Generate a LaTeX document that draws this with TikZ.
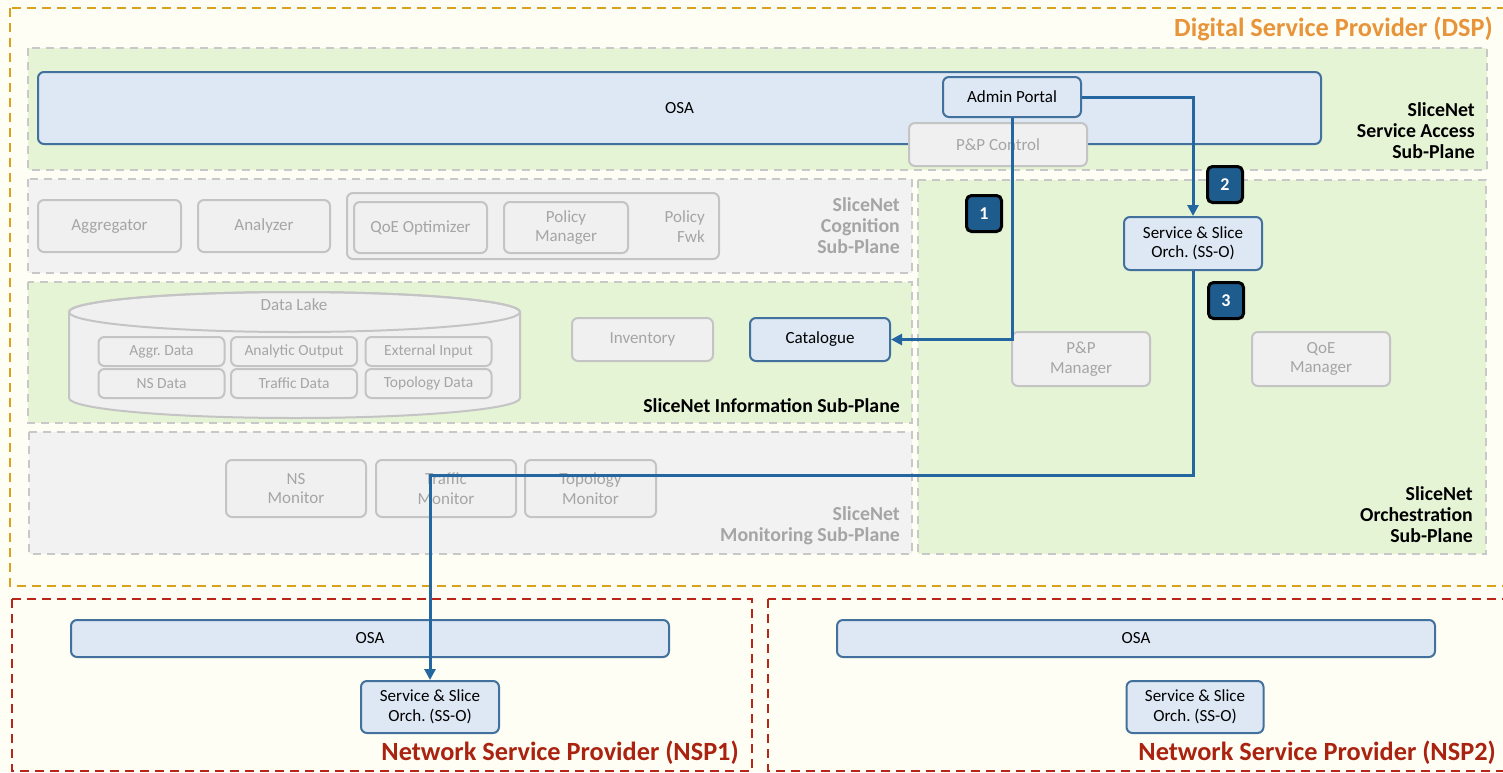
\documentclass[tikz,border=0pt]{standalone}
\usepackage{fontspec}
\setmainfont{Carlito}
\usetikzlibrary{arrows.meta}

\definecolor{cream}{HTML}{FEFEF4}
\definecolor{dspline}{HTML}{D9A21B}
\definecolor{dsptext}{HTML}{E8943A}
\definecolor{nspline}{HTML}{B8261A}
\definecolor{nsptext}{HTML}{AA2210}
\definecolor{greenfill}{HTML}{E6F4D6}
\definecolor{planegrey}{HTML}{F2F2F2}
\definecolor{planeline}{HTML}{C8C8C8}
\definecolor{greyfill}{HTML}{F0F0F0}
\definecolor{boxline}{HTML}{C4C4C4}
\definecolor{greytext}{HTML}{A5A5A5}
\definecolor{osafill}{HTML}{DDE8F4}
\definecolor{osaline}{HTML}{41719C}
\definecolor{flowblue}{HTML}{2466A0}
\definecolor{badgefill}{HTML}{1F5C8E}

\tikzset{
  plane/.style={draw=planeline, line width=2pt, dash pattern=on 8pt off 6pt},
  provider/.style={line width=2.3pt, dash pattern=on 9pt off 6pt},
  box/.style={draw=osaline, fill=osafill, line width=2pt, rounded corners=6pt, inner sep=0pt, align=center, font=\fontsize{17}{19.5}\selectfont},
  greybox/.style={box, draw=boxline, fill=greyfill, text=greytext},
  lakebox/.style={greybox, font=\fontsize{15.5}{18}\selectfont, minimum width=126pt, minimum height=29pt},
  planelabel/.style={anchor=east, align=right, inner sep=0pt, font=\bfseries\fontsize{19.8}{21}\selectfont},
  title/.style={anchor=base east, inner sep=0pt, font=\bfseries\fontsize{26.3}{30}\selectfont},
  badge/.style={draw=black, fill=badgefill, text=white, line width=3pt, rounded corners=5pt, minimum width=35pt, minimum height=36pt, inner sep=0pt, font=\bfseries\fontsize{18}{20}\selectfont},
  flow/.style={draw=flowblue, line width=3pt},
}

\begin{document}
\begin{tikzpicture}[x=1pt, y=-1pt, >={Triangle[length=11pt,width=11pt]}]
\useasboundingbox (0,0) rectangle (1503,772);
\fill[cream] (0,0) rectangle (1503,772);

\draw[provider, draw=dspline] (10,8) rectangle (1515,586);
\node[title, text=dsptext] (dsptitle) at (1493,36) {Digital Service Provider (DSP)};

\draw[plane, fill=greenfill] (28,48) rectangle (1487,170);
\draw[plane, fill=planegrey] (28,179) rectangle (912,273);
\draw[plane, fill=greenfill] (28,282) rectangle (912,423);
\draw[plane, fill=planegrey] (29,432) rectangle (912,554);
\draw[plane, fill=greenfill] (918,180) rectangle (1486,554);

\node[box, minimum width=1283pt, minimum height=72pt] (osa) at (679.5,108) {OSA};
\node[box, minimum width=138pt, minimum height=40pt] (admin) at (1012,97) {Admin Portal};
\node[greybox, minimum width=178pt, minimum height=43pt] (ppctrl) at (998,144.5) {P\&P Control};
\node[planelabel] (accesslbl) at (1475,131) {SliceNet\\Service Access\\Sub-Plane};

\node[greybox, minimum width=143pt, minimum height=52pt] (aggr) at (109.5,226) {Aggregator};
\node[greybox, minimum width=132pt, minimum height=52pt] (analyzer) at (264,226) {Analyzer};
\node[greybox, minimum width=372pt, minimum height=66pt] (policygrp) at (533,226) {};
\node[greybox, minimum width=133pt, minimum height=51pt] (qoeopt) at (420.5,227.5) {QoE Optimizer};
\node[greybox, minimum width=124pt, minimum height=51pt] (policymgr) at (566,227.5) {Policy\\Manager};
\node[anchor=east, align=right, inner sep=0pt, text=greytext, font=\fontsize{17}{19.5}\selectfont] (policyfwk) at (705,226.5) {Policy\\Fwk};
\node[planelabel, text=greytext] (coglbl) at (900,226) {SliceNet\\Cognition\\Sub-Plane};

\draw[draw=boxline, fill=greyfill, line width=2pt] (69,312) -- (69,398) arc[start angle=180, end angle=360, x radius=225.5pt, y radius=20pt] -- (520,312) arc[start angle=0, end angle=180, x radius=225.5pt, y radius=20pt] -- cycle;
\draw[draw=boxline, line width=2pt] (294.5,312) ellipse [x radius=225.5pt, y radius=20pt];
\node[text=greytext, font=\fontsize{17}{19.5}\selectfont] (lakelbl) at (294,305) {Data Lake};
\node[lakebox] (aggrdata) at (161.5,351.5) {Aggr.\ Data};
\node[lakebox] (analyticout) at (294,351.5) {Analytic Output};
\node[lakebox] (extinput) at (428.5,351.5) {External Input};
\node[lakebox] (nsdata) at (161.5,383.5) {NS Data};
\node[lakebox] (trafdata) at (294,383.5) {Traffic Data};
\node[lakebox] (topodata) at (428.5,383.5) {Topology Data};
\node[greybox, minimum width=141pt, minimum height=43pt] (inventory) at (642.5,339.5) {Inventory};
\node[box, minimum width=140pt, minimum height=43pt] (cat) at (820,339.5) {Catalogue};
\node[planelabel] (infolbl) at (900,406) {SliceNet Information Sub-Plane};

\node[greybox, minimum width=140pt, minimum height=57pt] (nsmon) at (296,488.5) {NS\\Monitor};
\node[greybox, minimum width=140pt, minimum height=57pt] (trafmon) at (446,488.5) {Traffic\\Monitor};
\node[greybox, minimum width=131pt, minimum height=57pt] (topomon) at (590.5,488.5) {Topology\\Monitor};
\node[planelabel, text=greytext] (monlbl) at (900,525.5) {SliceNet\\Monitoring Sub-Plane};

\node[box, minimum width=138pt, minimum height=53pt] (dspsso) at (1193,243.5) {Service \& Slice\\Orch.\ (SS-O)};
\node[greybox, minimum width=138pt, minimum height=54pt] (ppmgr) at (1081,359) {P\&P\\Manager};
\node[greybox, minimum width=138pt, minimum height=54pt] (qoemgr) at (1321,359) {QoE\\Manager};
\node[planelabel] (orchlbl) at (1473,515) {SliceNet\\Orchestration\\Sub-Plane};

\node[badge] (badge1) at (984,213.5) {1};
\node[badge] (badge2) at (1225,184.5) {2};
\node[badge] (badge3) at (1226,300.5) {3};

\draw[provider, draw=nspline] (12,599) rectangle (752,771);
\node[box, minimum width=598pt, minimum height=37pt] (osa1) at (370,638.5) {OSA};
\node[box, minimum width=138pt, minimum height=52pt] (sso1) at (430,707) {Service \& Slice\\Orch.\ (SS-O)};
\node[title, text=nsptext] (nsp1title) at (739,760) {Network Service Provider (NSP1)};

\draw[provider, draw=nspline] (768,599) rectangle (1515,771);
\node[box, minimum width=598pt, minimum height=37pt] (osa2) at (1136,638.5) {OSA};
\node[box, minimum width=137pt, minimum height=52pt] (sso2) at (1195,707) {Service \& Slice\\Orch.\ (SS-O)};
\node[title, text=nsptext] (nsp2title) at (1496,760) {Network Service Provider (NSP2)};

\coordinate (bend) at (430,475);
\path[draw,flow,->] (admin.south) |- (cat.east);
\path[draw,flow,->] (admin.east) -| (dspsso.north);
\path[draw,flow,->] (dspsso.south) |- (bend) -- (sso1.north);
\end{tikzpicture}
\end{document}
